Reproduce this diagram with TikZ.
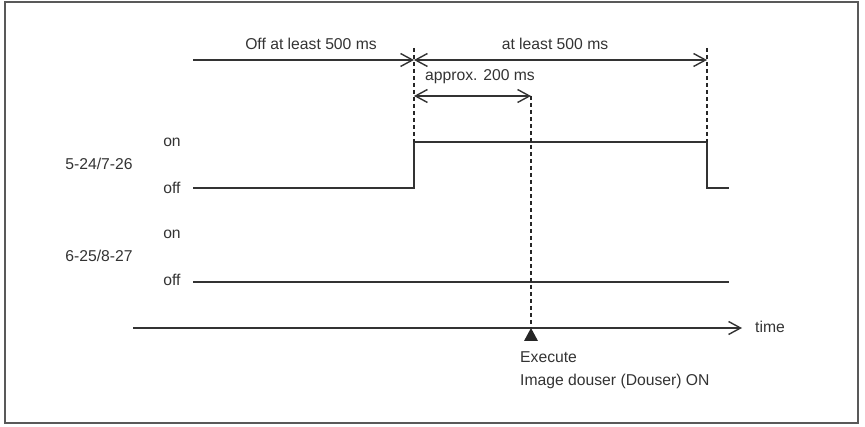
\documentclass[tikz,border=0pt]{standalone}
\usepackage{fontspec}
\setmainfont{Liberation Sans}
\usetikzlibrary{arrows.meta,positioning,calc}

\begin{document}
\begin{tikzpicture}[x=1pt,y=-1pt,
    barb/.tip={Straight Barb[length=12pt,width=13pt]},
    sigline/.style={draw=black!80, line width=1.4pt},
    span/.style={sigline, barb-barb},
    guide/.style={draw=black!85, line width=1.2pt, dash pattern=on 4pt off 3pt},
    lbl/.style={text=black!80, font=\fontsize{15.7}{18}\selectfont, inner sep=0pt}]
    \useasboundingbox (0,0) rectangle (865,427);
    \draw[draw=black!65, line width=1.5pt] (5,2) rectangle (858,423);

    % time marks
    \coordinate (start) at (193,60);
    \coordinate (rise) at (414,60);
    \coordinate (fall) at (707,60);
    \coordinate (exec) at (531,96);
    \coordinate (riseTop) at (414,48);
    \coordinate (fallTop) at (707,48);
    \coordinate (rise200) at (414,96);

    \draw[sigline, -barb] (start) -- (rise);
    \draw[span] (rise) -- (fall);
    \draw[span] (rise200) -- (exec);
    \node[lbl] (offmin) at (311,44) {Off at least 500 ms};
    \node[lbl] (onmin) at (555,44) {at least 500 ms};
    \node[lbl] (approx) at (480,77) {approx. 200 ms};

    % signals
    \node[lbl] (onA) at (172,142) {on};
    \node[lbl] (offA) at (172,188) {off};
    \node[lbl] (sigA) at (99,164) {5-24/7-26};
    \node[lbl] (onB) at (172,234) {on};
    \node[lbl] (offB) at (172,280) {off};
    \node[lbl] (sigB) at (99,256) {6-25/8-27};
    \coordinate (aLow) at (193,188);
    \coordinate (aEnd) at (729,188);
    \coordinate (bLow) at (193,282);
    \coordinate (bEnd) at (729,282);
    \draw[sigline] (aLow) -- (aLow -| rise) -- (414,142) -- (707,142) -- (aLow -| fall) -- (aEnd);
    \draw[sigline] (bLow) -- (bEnd);

    % time axis
    \coordinate (axis0) at (133,328);
    \coordinate (axis1) at (742,328);
    \coordinate (mark) at (531,328);
    \draw[sigline, -barb] (axis0) -- (axis1);
    \node[lbl] (time) at (770,327) {time};
    \fill[black!85] (mark) -- ++(-7,13) -- ++(14,0) -- cycle;

    \draw[guide] (riseTop) -- (414,142);
    \draw[guide] (fallTop) -- (707,142);
    \draw[guide] (exec) -- (mark);

    \node[lbl, anchor=west] (execA) at (520,357) {Execute};
    \node[lbl, anchor=west] (execB) at (520,381) {Image douser (Douser) ON};
\end{tikzpicture}
\end{document}
